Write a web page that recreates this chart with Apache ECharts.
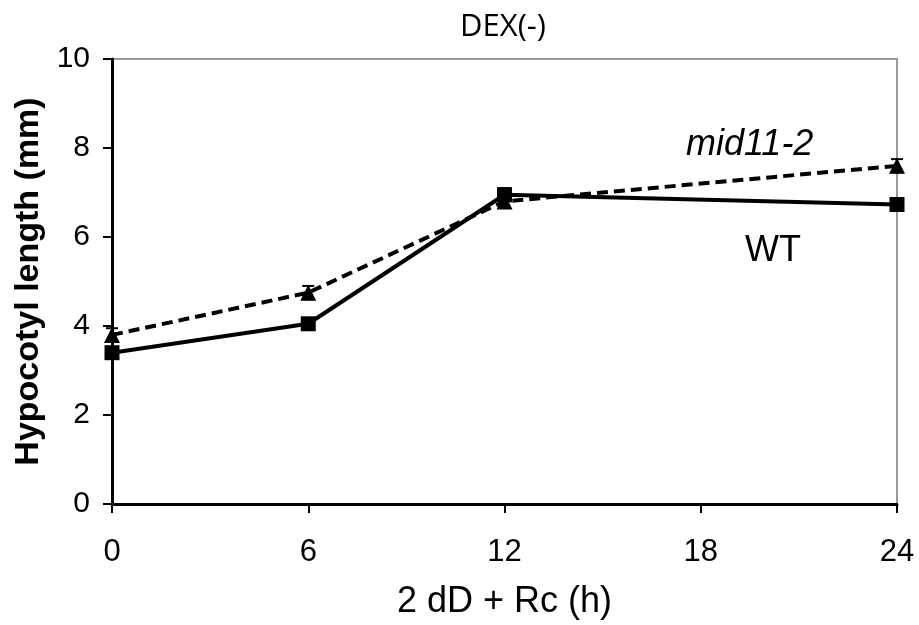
<!DOCTYPE html>
<html>
<head>
<meta charset="utf-8">
<script src="https://cdn.jsdelivr.net/npm/echarts@6/dist/echarts.min.js"></script>
<style>
  html, body { margin: 0; padding: 0; background: #fff; }
  #chart { width: 919px; height: 625px; }
</style>
</head>
<body>
<div id="chart"></div>
<script>
// hours after transfer
const hours = [0, 6, 12, 24];
const wtMean = [3.4, 4.05, 6.95, 6.73];
const wtErr = [0.12, 0.08, 0.15, 0.12];
const midMean = [3.8, 4.75, 6.8, 7.6];
const midErr = [0.15, 0.15, 0.12, 0.15];

const xTicks = [0, 6, 12, 18, 24];
const yTicks = [0, 2, 4, 6, 8, 10];

function pairs(xs, ys) {
  return xs.map((x, i) => [x, ys[i]]);
}

function errData(xs, ys, es) {
  return xs.map((x, i) => [x, ys[i] - es[i], ys[i] + es[i]]);
}

function errRender(params, api) {
  const x = api.value(0);
  const lo = api.coord([x, api.value(1)]);
  const hi = api.coord([x, api.value(2)]);
  const w = 6;
  const st = { stroke: '#000', lineWidth: 2 };
  return {
    type: 'group',
    children: [
      { type: 'line', shape: { x1: lo[0], y1: lo[1], x2: hi[0], y2: hi[1] }, style: st },
      { type: 'line', shape: { x1: hi[0] - w, y1: hi[1], x2: hi[0] + w, y2: hi[1] }, style: st },
      { type: 'line', shape: { x1: lo[0] - w, y1: lo[1], x2: lo[0] + w, y2: lo[1] }, style: st }
    ]
  };
}

const chart = echarts.init(document.getElementById('chart'));
chart.setOption({
  animation: false,
  backgroundColor: '#fff',
  title: {
    text: 'DEX(-)',
    left: 498,
    top: 7,
    textAlign: 'center',
    textStyle: { fontFamily: 'Open Sans', fontSize: 31, fontWeight: 'normal', color: '#000' }
  },
  grid: {
    left: 112, right: 22, top: 59, bottom: 120,
    show: true, borderColor: '#9a9a9a', borderWidth: 2
  },
  xAxis: {
    type: 'value',
    min: 0, max: 24, interval: 6,
    name: '2 dD + Rc (h)',
    nameLocation: 'middle',
    nameGap: 80,
    nameTextStyle: { fontFamily: 'Liberation Sans', fontSize: 36, color: '#000' },
    axisLine: { lineStyle: { color: '#000', width: 3 } },
    axisTick: { show: true, length: 9, lineStyle: { color: '#000', width: 2 } },
    axisLabel: { fontFamily: 'Liberation Sans', fontSize: 31, color: '#000', margin: 33,
      formatter: v => xTicks.includes(v) ? String(v) : '' },
    splitLine: { show: false }
  },
  yAxis: {
    type: 'value',
    min: 0, max: 10, interval: 2,
    name: 'Hypocotyl length (mm)',
    nameLocation: 'middle',
    nameGap: 60,
    nameTextStyle: { fontFamily: 'Liberation Sans', fontSize: 34, fontWeight: 'bold', color: '#000' },
    axisLine: { show: true, lineStyle: { color: '#000', width: 3 } },
    axisTick: { show: true, length: 9, lineStyle: { color: '#000', width: 2 } },
    axisLabel: { fontFamily: 'Liberation Sans', fontSize: 30, color: '#000', margin: 22,
      formatter: v => yTicks.includes(v) ? String(v) : '' },
    splitLine: { show: false }
  },
  series: [
    {
      name: 'mid11-2',
      type: 'line',
      data: pairs(hours, midMean),
      symbol: 'triangle',
      symbolSize: 16,
      itemStyle: { color: '#000' },
      lineStyle: { color: '#000', width: 4, type: [11, 6] },
      z: 3
    },
    {
      name: 'WT',
      type: 'line',
      data: pairs(hours, wtMean),
      symbol: 'rect',
      symbolSize: 15,
      itemStyle: { color: '#000', borderRadius: 2 },
      lineStyle: { color: '#000', width: 4 },
      z: 4
    },
    {
      type: 'custom',
      data: errData(hours, midMean, midErr),
      renderItem: errRender,
      z: 5
    },
    {
      type: 'custom',
      data: errData(hours, wtMean, wtErr),
      renderItem: errRender,
      z: 5
    }
  ],
  graphic: [
    {
      type: 'text', left: 686, top: 127,
      style: { text: 'mid11-2', fontFamily: 'Liberation Sans', fontSize: 36, fontStyle: 'italic', fill: '#000' }
    },
    {
      type: 'text', left: 745, top: 233,
      style: { text: 'WT', fontFamily: 'Liberation Sans', fontSize: 36, fill: '#000' }
    }
  ]
});
</script>
</body>
</html>
